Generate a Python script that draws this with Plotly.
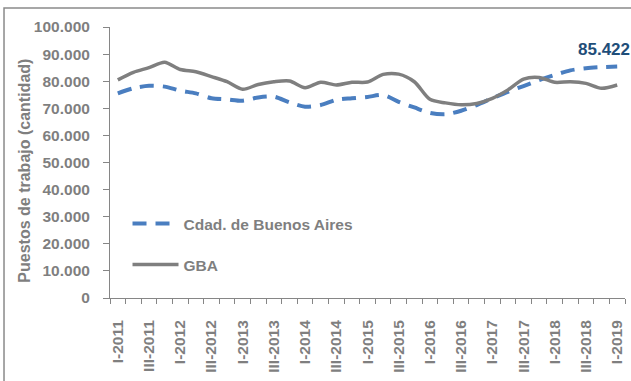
import plotly.graph_objects as go

# Quarterly job positions (cantidad), I-2011 .. I-2019
quarters = [f"{q}-{y}" for y in range(2011, 2019) for q in ("I", "II", "III", "IV")] + ["I-2019"]

cdad_bsas = [75500, 77400, 78300, 78000, 76500, 75500, 73700, 73300,
             72800, 74000, 74300, 72200, 70600, 71200, 73100, 73700,
             74200, 74900, 72400, 70300, 68300, 67800, 69100, 71200,
             73700, 76100, 78200, 80400, 82300, 84000, 84800, 85200,
             85422]

gba = [80500, 83300, 85000, 87000, 84300, 83500, 81700, 79800,
       77000, 78800, 79800, 80100, 77600, 79600, 78600, 79600,
       79700, 82500, 82600, 79800, 73300, 72000, 71300, 71800,
       73700, 76800, 80800, 81400, 79600, 79800, 79200, 77400,
       78600]

y_ticks = list(range(0, 100001, 10000))

FONT = "Arial, Liberation Sans, sans-serif"
GRAY_TXT = "#7f7f7f"
AXIS_GRAY = "#868686"
BLUE = "#4a7ec0"
LINE_GRAY = "#7f7f7f"

idx = list(range(len(quarters)))

fig = go.Figure()
fig.add_trace(go.Scatter(
    x=idx, y=cdad_bsas, name="Cdad. de Buenos Aires", mode="lines",
    line=dict(color=BLUE, width=4, dash="14px,9px", shape="spline", smoothing=0.8),
    legend="legend", showlegend=True,
))
fig.add_trace(go.Scatter(
    x=idx, y=gba, name="GBA", mode="lines",
    line=dict(color=LINE_GRAY, width=3.5, shape="spline", smoothing=0.8),
    legend="legend2", showlegend=True,
))

# value label on the last point of the city series
last_val = cdad_bsas[-1]
fig.add_annotation(
    x=idx[-1], y=last_val, text=f"{last_val:,.0f}".replace(",", "."),
    showarrow=False, xanchor="center", yanchor="bottom", xshift=-13, yshift=6,
    font=dict(family=FONT, size=17, color="#1f4e79", weight="bold"),
)

# y axis title
fig.add_annotation(
    xref="paper", yref="paper", x=-0.165, y=0.47, textangle=-90,
    text="Puestos de trabajo (cantidad)", showarrow=False,
    xanchor="center", yanchor="middle",
    font=dict(family=FONT, size=16, color=GRAY_TXT, weight="bold"),
)

# outer frame
fig.add_shape(type="rect", xref="paper", yref="paper",
              x0=-0.2058, x1=1.05, y0=-0.33, y1=1.0701,
              line=dict(color="#8a8a8a", width=1.5), layer="below")

legend_common = dict(
    xanchor="left", yanchor="middle", bgcolor="rgba(0,0,0,0)",
    font=dict(family=FONT, size=15.5, color=GRAY_TXT, weight="bold"),
    itemwidth=46, visible=True,
)

fig.update_layout(
    width=631, height=381,
    margin=dict(l=110, r=6, t=27, b=83),
    paper_bgcolor="white", plot_bgcolor="white",
    separators=",.",
    showlegend=True,
    font=dict(family=FONT, color=GRAY_TXT),
    legend=dict(x=0.034, y=0.273, **legend_common),
    legend2=dict(x=0.034, y=0.122, **legend_common),
    xaxis=dict(
        range=[-0.5, len(quarters) - 0.5],
        tickmode="array", tickvals=idx[::2], ticktext=quarters[::2],
        tickangle=-90, ticks="outside", ticklen=5, tickcolor="rgba(0,0,0,0)",
        ticklabelstandoff=10,
        tickfont=dict(family=FONT, size=15.5, color=GRAY_TXT, weight="bold"),
        showline=True, linecolor=AXIS_GRAY, linewidth=1,
        showgrid=False, zeroline=False,
        minor=dict(tickvals=[i - 0.5 for i in range(len(quarters) + 1)],
                   ticks="outside", ticklen=5, tickcolor=AXIS_GRAY, tickwidth=1,
                   showgrid=False),
    ),
    yaxis=dict(
        range=[0, 100000], tickmode="array", tickvals=y_ticks,
        tickformat=",d", ticks="outside", ticklen=6, tickcolor=AXIS_GRAY,
        ticklabelstandoff=10,
        tickfont=dict(family=FONT, size=15.5, color=GRAY_TXT, weight="bold"),
        showline=True, linecolor=AXIS_GRAY, linewidth=1,
        showgrid=False, zeroline=False,
    ),
)

fig.write_html("out.html")
